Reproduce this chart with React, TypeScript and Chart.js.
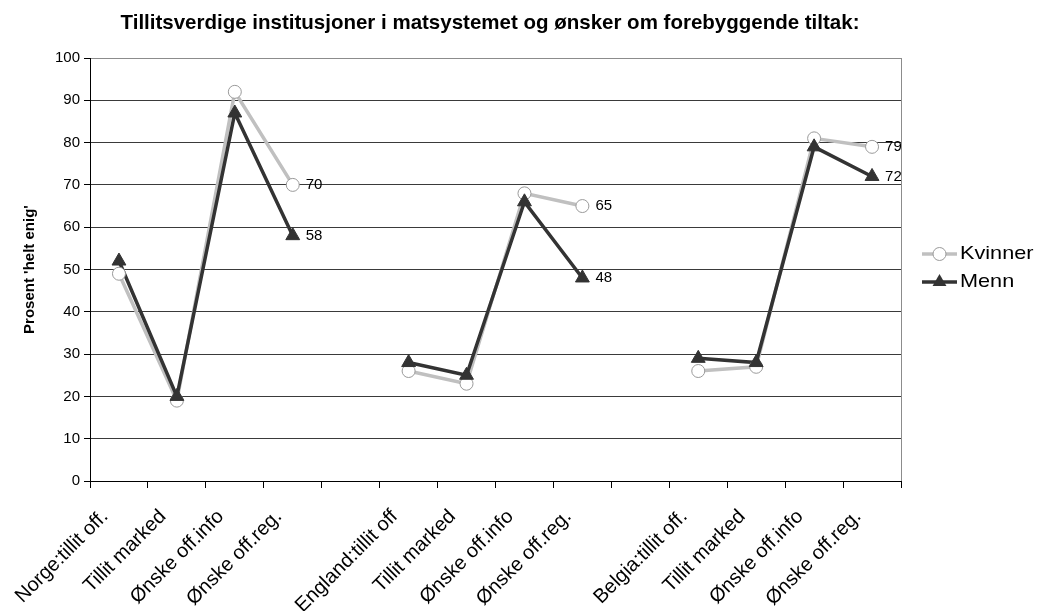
import React, { useEffect, useRef } from 'react';
import { Chart, registerables } from 'chart.js';

Chart.register(...registerables);

const categories = [
  'Norge:tillit off.', 'Tillit marked', 'Ønske off.info', 'Ønske off.reg.', '',
  'England:tillit off', 'Tillit marked', 'Ønske off.info', 'Ønske off.reg.', '',
  'Belgia:tillit off.', 'Tillit marked', 'Ønske off.info', 'Ønske off.reg.',
];
const kvinner = [49, 19, 92, 70, null, 26, 23, 68, 65, null, 26, 27, 81, 79];
const menn = [52, 20, 87, 58, null, 28, 25, 66, 48, null, 29, 28, 79, 72];
const labelledIndexes = [3, 8, 13];
const seriesNames = ['Kvinner', 'Menn'];
const yMin = 0;
const yMax = 100;
const yStep = 10;
const titleText = 'Tillitsverdige institusjoner i matsystemet og ønsker om forebyggende tiltak:';
const yTitleText = "Prosent 'helt enig'";

const FONT = "'Liberation Sans', Arial, sans-serif";
const KV_LINE = '#c0c0c0';
const KV_BORDER = '#9a9a9a';
const MENN = '#333333';

const decorPlugin = {
  id: 'decor',
  afterDatasetsDraw(chart: any) {
    const { ctx } = chart;
    ctx.save();
    ctx.font = `15px ${FONT}`;
    ctx.fillStyle = '#000';
    ctx.textAlign = 'left';
    ctx.textBaseline = 'middle';
    [2, 3].forEach((di) => {
      const meta = chart.getDatasetMeta(di);
      const vals = di === 2 ? kvinner : menn;
      labelledIndexes.forEach((i) => {
        const el = meta.data[i];
        if (!el || vals[i] == null) return;
        ctx.fillText(String(vals[i]), el.x + 13, el.y);
      });
    });
    ctx.restore();
  },
  afterDraw(chart: any) {
    const { ctx, chartArea: a } = chart;
    ctx.save();
    // right border
    ctx.strokeStyle = '#8c8c8c';
    ctx.lineWidth = 1;
    ctx.beginPath();
    ctx.moveTo(Math.round(a.right) + 0.5, a.top);
    ctx.lineTo(Math.round(a.right) + 0.5, a.bottom);
    ctx.stroke();

    // title
    ctx.fillStyle = '#000';
    ctx.font = `bold 20.5px ${FONT}`;
    ctx.textAlign = 'center';
    ctx.textBaseline = 'middle';
    ctx.fillText(titleText, 490, 23);

    // y title
    ctx.save();
    ctx.translate(30, (a.top + a.bottom) / 2);
    ctx.rotate(-Math.PI / 2);
    ctx.font = `bold 15px ${FONT}`;
    ctx.fillText(yTitleText, 0, 0);
    ctx.restore();

    // legend
    const lx1 = 922;
    const lx2 = 957;
    const lm = (lx1 + lx2) / 2;
    const rows = [254, 282];
    const tx = 960;
    // Kvinner
    ctx.strokeStyle = KV_LINE;
    ctx.lineWidth = 3.5;
    ctx.beginPath();
    ctx.moveTo(lx1, rows[0]);
    ctx.lineTo(lx2, rows[0]);
    ctx.stroke();
    ctx.beginPath();
    ctx.arc(lm, rows[0], 6.5, 0, Math.PI * 2);
    ctx.fillStyle = '#fff';
    ctx.fill();
    ctx.strokeStyle = KV_BORDER;
    ctx.lineWidth = 1;
    ctx.stroke();
    // Menn
    ctx.strokeStyle = MENN;
    ctx.lineWidth = 3.5;
    ctx.beginPath();
    ctx.moveTo(lx1, rows[1]);
    ctx.lineTo(lx2, rows[1]);
    ctx.stroke();
    const r = 8;
    ctx.beginPath();
    ctx.moveTo(lm, rows[1] - r);
    ctx.lineTo(lm + r * Math.sin((2 * Math.PI) / 3), rows[1] + r / 2);
    ctx.lineTo(lm - r * Math.sin((2 * Math.PI) / 3), rows[1] + r / 2);
    ctx.closePath();
    ctx.fillStyle = MENN;
    ctx.fill();
    // legend texts (slightly wide, as in the reference)
    ctx.fillStyle = '#000';
    ctx.font = `19px ${FONT}`;
    ctx.textAlign = 'left';
    ctx.textBaseline = 'middle';
    seriesNames.forEach((name, i) => {
      ctx.save();
      ctx.translate(tx, rows[i]);
      ctx.scale(1.14, 1);
      ctx.fillText(name, 0, 0);
      ctx.restore();
    });
    ctx.restore();
  },
};

export default function App() {
  const ref = useRef<HTMLCanvasElement>(null);
  useEffect(() => {
    const chart = new Chart(ref.current as HTMLCanvasElement, {
      type: 'line',
      data: {
        labels: categories,
        datasets: [
          {
            label: seriesNames[0],
            data: kvinner,
            borderColor: KV_LINE,
            borderWidth: 3.5,
            pointRadius: 0,
            pointHoverRadius: 0,
            tension: 0,
            spanGaps: false,
            order: 4,
          },
          {
            label: seriesNames[1],
            data: menn,
            borderColor: MENN,
            borderWidth: 3.5,
            pointRadius: 0,
            pointHoverRadius: 0,
            tension: 0,
            spanGaps: false,
            order: 3,
          },
          {
            label: seriesNames[0],
            data: kvinner,
            showLine: false,
            pointStyle: 'circle',
            pointRadius: 6.5,
            pointHoverRadius: 6.5,
            pointBackgroundColor: '#ffffff',
            pointBorderColor: KV_BORDER,
            pointBorderWidth: 1,
            order: 2,
          },
          {
            label: seriesNames[1],
            data: menn,
            showLine: false,
            pointStyle: 'triangle',
            pointRadius: 8,
            pointHoverRadius: 8,
            pointBackgroundColor: MENN,
            pointBorderColor: MENN,
            pointBorderWidth: 1,
            order: 1,
          },
        ],
      } as any,
      options: {
        animation: false,
        responsive: true,
        maintainAspectRatio: false,
        events: [],
        layout: { padding: { left: 0, right: 138, top: 58, bottom: 0 } },
        plugins: {
          legend: { display: false },
          title: { display: false },
          tooltip: { enabled: false },
        },
        scales: {
          x: {
            type: 'category',
            offset: true,
            grid: {
              offset: true,
              drawOnChartArea: false,
              drawTicks: true,
              tickLength: 7,
              tickColor: '#000',
              color: '#000',
            },
            border: { display: true, color: '#000', width: 1 },
            ticks: {
              autoSkip: false,
              minRotation: 45,
              maxRotation: 45,
              padding: 17,
              labelOffset: -14,
              color: '#000',
              font: { family: FONT, size: 20 },
            },
            afterFit(scale: any) {
              scale.height = 130;
              scale.paddingLeft = 0;
              scale.paddingRight = 0;
            },
          },
          y: {
            min: yMin,
            max: yMax,
            ticks: {
              stepSize: yStep,
              padding: 4,
              color: '#000',
              font: { family: FONT, size: 15 },
            },
            grid: {
              color: (c: any) => (c.tick && c.tick.value === yMax ? '#8c8c8c' : '#3a3a3a'),
              lineWidth: 1,
              tickLength: 6,
              tickColor: '#000',
            },
            border: { display: true, color: '#000', width: 1 },
            afterFit(scale: any) {
              scale.width = 90;
            },
          },
        },
      } as any,
      plugins: [decorPlugin],
    });
    return () => chart.destroy();
  }, []);
  return (
    <div style={{ position: 'fixed', left: 0, top: 0, width: 1039, height: 611 }}>
      <canvas ref={ref} />
    </div>
  );
}
